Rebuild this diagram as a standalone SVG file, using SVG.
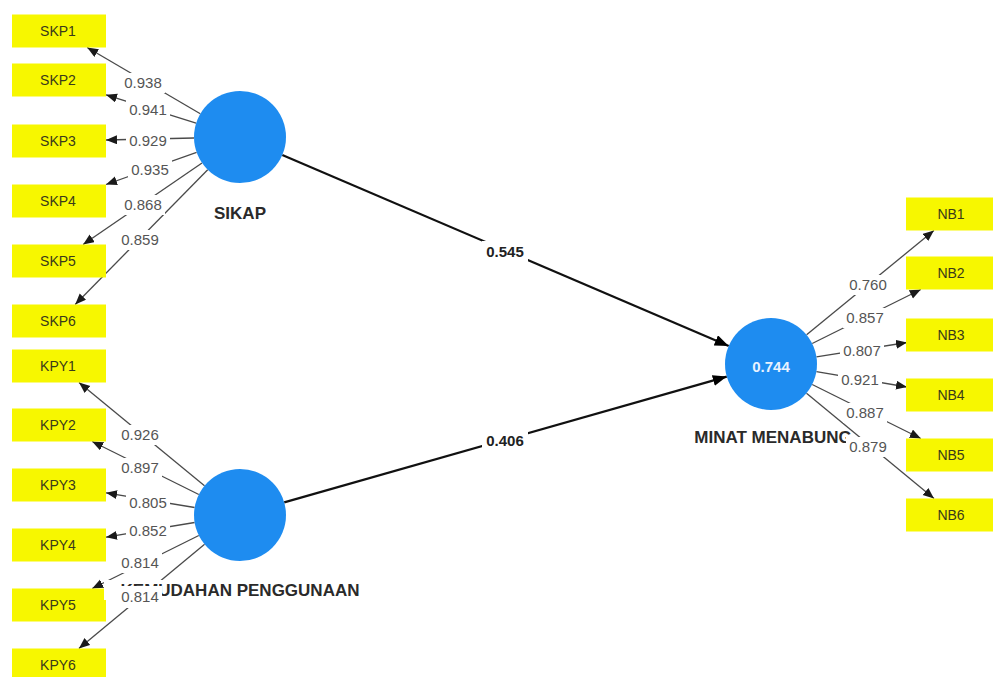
<svg xmlns="http://www.w3.org/2000/svg" width="993" height="677" viewBox="0 0 993 677">
<defs>
<marker id="ah" markerUnits="userSpaceOnUse" markerWidth="12" markerHeight="10" refX="11" refY="4.5" orient="auto"><path d="M0,0 L11,4.5 L0,9 z" fill="#1a1a1a"/></marker>
<marker id="ahb" markerUnits="userSpaceOnUse" markerWidth="15" markerHeight="12" refX="14" refY="5.5" orient="auto"><path d="M0,0 L14,5.5 L0,11 z" fill="#000"/></marker>
<style>
.ld{stroke:#4a4a4a;stroke-width:1.3;fill:none;marker-end:url(#ah)}
.pc{stroke:#111;stroke-width:2.2;fill:none;marker-end:url(#ahb)}
.box{fill:#F7F700}
.bt{font-family:"Liberation Sans",Arial,sans-serif;font-size:14px;fill:#3a3a1a;text-anchor:middle}
.lv{fill:#1E8CF0}
.nt{font-family:"Liberation Sans",Arial,sans-serif;font-size:17px;font-weight:bold;fill:#2a2a2a;text-anchor:middle}
.bg{fill:#fff}
.el{font-family:"Liberation Sans",Arial,sans-serif;font-size:15px;fill:#555;text-anchor:middle}
.pl{font-family:"Liberation Sans",Arial,sans-serif;font-size:15px;font-weight:bold;fill:#222;text-anchor:middle}
.r2{font-family:"Liberation Sans",Arial,sans-serif;font-size:15px;font-weight:bold;fill:#e8f2ff;text-anchor:middle}
</style>
</defs>
<rect width="993" height="677" fill="#fff"/>
<g id="connectors">
<path class="ld" d="M200.3,113.8 L87.2,47.5"/>
<path class="ld" d="M196.1,123.2 L106,94.8"/>
<path class="ld" d="M194,138 L106,140"/>
<path class="ld" d="M196.6,152.3 L106,184.5"/>
<path class="ld" d="M202,163 L83.1,244.5"/>
<path class="ld" d="M207.7,169.8 L75.2,304.5"/>
<path class="ld" d="M204.5,485.7 L79,382.5"/>
<path class="ld" d="M198.8,494.5 L92.2,441.5"/>
<path class="ld" d="M194.6,507.5 L106,492.8"/>
<path class="ld" d="M194.6,522.5 L106,537.2"/>
<path class="ld" d="M198.8,535.5 L92.2,588.5"/>
<path class="ld" d="M204.6,544.3 L78.9,648.5"/>
<path class="ld" d="M806.6,334.8 L933.9,230.5"/>
<path class="ld" d="M812.2,343.5 L920.8,289.5"/>
<path class="ld" d="M816.4,356.8 L907,342.5"/>
<path class="ld" d="M816.4,371.7 L907,387"/>
<path class="ld" d="M812.2,384.5 L920.8,438.5"/>
<path class="ld" d="M806.5,393.3 L934,498.5"/>
<path class="pc" d="M282.3,155.1 L728.7,345.9"/>
<path class="pc" d="M284.2,502.4 L726.8,376.6"/>
</g>
<g id="SKP1"><rect class="box" x="12" y="14.5" width="94" height="33"/><text class="bt" x="58" y="36">SKP1</text></g>
<g id="SKP2"><rect class="box" x="12" y="63.5" width="94" height="33"/><text class="bt" x="58" y="85">SKP2</text></g>
<g id="SKP3"><rect class="box" x="12" y="124.5" width="94" height="33"/><text class="bt" x="58" y="146">SKP3</text></g>
<g id="SKP4"><rect class="box" x="12" y="184.5" width="94" height="33"/><text class="bt" x="58" y="206">SKP4</text></g>
<g id="SKP5"><rect class="box" x="12" y="244.5" width="94" height="33"/><text class="bt" x="58" y="266">SKP5</text></g>
<g id="SKP6"><rect class="box" x="12" y="304.5" width="94" height="33"/><text class="bt" x="58" y="326">SKP6</text></g>
<g id="KPY1"><rect class="box" x="12" y="349.5" width="94" height="33"/><text class="bt" x="58" y="371">KPY1</text></g>
<g id="KPY2"><rect class="box" x="12" y="408.5" width="94" height="33"/><text class="bt" x="58" y="430">KPY2</text></g>
<g id="KPY3"><rect class="box" x="12" y="468.5" width="94" height="33"/><text class="bt" x="58" y="490">KPY3</text></g>
<g id="KPY4"><rect class="box" x="12" y="528.5" width="94" height="33"/><text class="bt" x="58" y="550">KPY4</text></g>
<g id="KPY5"><rect class="box" x="12" y="588.5" width="94" height="33"/><text class="bt" x="58" y="610">KPY5</text></g>
<g id="KPY6"><rect class="box" x="12" y="648.5" width="94" height="33"/><text class="bt" x="58" y="670">KPY6</text></g>
<g id="NB1"><rect class="box" x="906" y="197.5" width="94" height="33"/><text class="bt" x="951" y="219">NB1</text></g>
<g id="NB2"><rect class="box" x="906" y="256.5" width="94" height="33"/><text class="bt" x="951" y="278">NB2</text></g>
<g id="NB3"><rect class="box" x="906" y="318.5" width="94" height="33"/><text class="bt" x="951" y="340">NB3</text></g>
<g id="NB4"><rect class="box" x="906" y="378.5" width="94" height="33"/><text class="bt" x="951" y="400">NB4</text></g>
<g id="NB5"><rect class="box" x="906" y="438.5" width="94" height="33"/><text class="bt" x="951" y="460">NB5</text></g>
<g id="NB6"><rect class="box" x="906" y="498.5" width="94" height="33"/><text class="bt" x="951" y="520">NB6</text></g>
<g id="SIKAP"><circle class="lv" cx="240" cy="137" r="46"/><text class="nt" x="240" y="219">SIKAP</text></g>
<g id="KEMUDAHAN_PENGGUNAAN"><circle class="lv" cx="240" cy="515" r="46"/><rect class="bg" x="104" y="580" width="262" height="20"/><text class="nt" x="240" y="596">KEMUDAHAN PENGGUNAAN</text></g>
<g id="MINAT_MENABUNG"><circle class="lv" cx="771" cy="364" r="46"/><text class="r2" x="771" y="372">0.744</text><text class="nt" x="773" y="443">MINAT MENABUNG</text></g>
<g id="connector-labels">
<rect class="bg" x="121" y="73" width="44" height="20"/><text class="el" x="143" y="88">0.938</text>
<rect class="bg" x="126" y="100" width="44" height="20"/><text class="el" x="148" y="115">0.941</text>
<rect class="bg" x="126" y="131" width="44" height="20"/><text class="el" x="148" y="146">0.929</text>
<rect class="bg" x="128" y="160" width="44" height="20"/><text class="el" x="150" y="175">0.935</text>
<rect class="bg" x="121" y="195" width="44" height="20"/><text class="el" x="143" y="210">0.868</text>
<rect class="bg" x="118" y="230" width="44" height="20"/><text class="el" x="140" y="245">0.859</text>
<rect class="bg" x="118" y="425" width="44" height="20"/><text class="el" x="140" y="440">0.926</text>
<rect class="bg" x="118" y="458" width="44" height="20"/><text class="el" x="140" y="473">0.897</text>
<rect class="bg" x="126" y="493" width="44" height="20"/><text class="el" x="148" y="508">0.805</text>
<rect class="bg" x="126" y="521" width="44" height="20"/><text class="el" x="148" y="536">0.852</text>
<rect class="bg" x="118" y="553" width="44" height="20"/><text class="el" x="140" y="568">0.814</text>
<rect class="bg" x="118" y="586" width="44" height="22"/><text class="el" x="140" y="602">0.814</text>
<rect class="bg" x="846" y="275" width="44" height="20"/><text class="el" x="868" y="290">0.760</text>
<rect class="bg" x="843" y="308" width="44" height="20"/><text class="el" x="865" y="323">0.857</text>
<rect class="bg" x="840" y="341" width="44" height="20"/><text class="el" x="862" y="356">0.807</text>
<rect class="bg" x="838" y="370" width="44" height="20"/><text class="el" x="860" y="385">0.921</text>
<rect class="bg" x="843" y="403" width="44" height="20"/><text class="el" x="865" y="418">0.887</text>
<rect class="bg" x="846" y="437" width="44" height="20"/><text class="el" x="868" y="452">0.879</text>
<rect class="bg" x="482" y="241" width="46" height="21"/><text class="pl" x="505" y="257">0.545</text>
<rect class="bg" x="482" y="430" width="46" height="21"/><text class="pl" x="505" y="446">0.406</text>
</g>
</svg>
